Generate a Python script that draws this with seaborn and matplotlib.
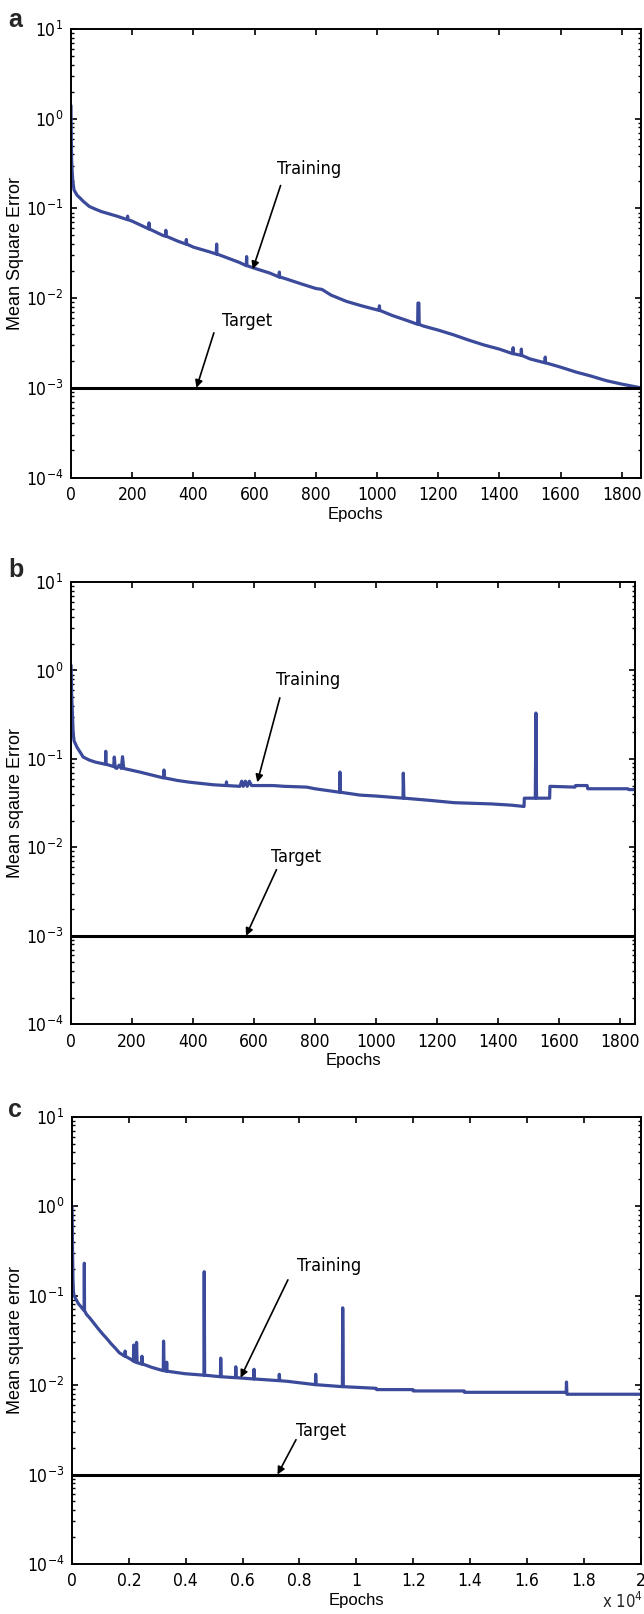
import math
import matplotlib
matplotlib.use("Agg")
import matplotlib.pyplot as plt
import matplotlib.ticker as mticker
from matplotlib import font_manager
import seaborn as sns
import pandas as pd

# ---------------------------------------------------------------- data
# (a) training run that reaches the goal
epochs_a = [0, 1, 2, 4, 6, 10, 20, 30, 40, 60, 80, 100, 150, 184, 185, 186, 200,
            250, 254, 255, 256, 300, 309, 310, 311, 350, 376, 377, 378, 400, 450,
            475, 476, 477, 500, 550, 573, 574, 575, 600, 650, 680, 681, 682, 700,
            750, 800, 820, 850, 900, 950, 1000, 1007, 1008, 1009, 1050, 1100,
            1133, 1134, 1137, 1138, 1150, 1200, 1250, 1300, 1350, 1400, 1444, 1445,
            1446, 1471, 1472, 1473, 1500, 1549, 1550, 1551, 1600, 1650, 1700, 1750,
            1800, 1862]
mse_a = [1.4, 0.6, 0.35, 0.25, 0.2, 0.16, 0.14, 0.13, 0.12, 0.105, 0.098, 0.092,
         0.082, 0.075, 0.082, 0.075, 0.072, 0.06, 0.059, 0.069, 0.059, 0.05, 0.049,
         0.057, 0.049, 0.043, 0.040, 0.045, 0.040, 0.037, 0.033, 0.031, 0.040,
         0.031, 0.029, 0.025, 0.023, 0.029, 0.023, 0.0215, 0.019, 0.0172, 0.0195,
         0.0172, 0.0165, 0.0145, 0.0128, 0.0125, 0.0108, 0.0092, 0.0082, 0.0074,
         0.0073, 0.0082, 0.0073, 0.0064, 0.0056, 0.0051, 0.0088, 0.0088, 0.0051,
         0.0049, 0.0044, 0.0039, 0.0034, 0.0030, 0.0027, 0.0024, 0.0028, 0.0024,
         0.0023, 0.0027, 0.0023, 0.0021, 0.0019, 0.0022, 0.0019, 0.0017, 0.0015,
         0.00135, 0.0012, 0.0011, 0.001]

# (b) training run that stalls around 0.03-0.05
epochs_b = [0, 1, 2, 3, 5, 7, 10, 20, 40, 60, 80, 113, 114, 115, 140, 142, 145,
            150, 158, 165, 169, 173, 226, 303, 305, 307, 350, 390, 467, 509, 510,
            511, 554, 560, 565, 572, 578, 585, 592, 663, 700, 773, 800, 860, 881,
            882, 884, 948, 1003, 1089, 1090, 1092, 1177, 1257, 1378, 1445, 1486,
            1487, 1523, 1525, 1527, 1570, 1571, 1653, 1655, 1693, 1695, 1827, 1830,
            1850]
mse_b = [1.15, 0.9, 0.55, 0.45, 0.3, 0.2, 0.16, 0.135, 0.105, 0.097, 0.092, 0.087,
         0.122, 0.087, 0.082, 0.105, 0.08, 0.078, 0.085, 0.078, 0.106, 0.078, 0.071,
         0.061, 0.075, 0.061, 0.057, 0.0545, 0.051, 0.050, 0.055, 0.050, 0.049,
         0.056, 0.049, 0.056, 0.049, 0.056, 0.050, 0.050, 0.049, 0.048, 0.046,
         0.043, 0.042, 0.071, 0.042, 0.039, 0.038, 0.036, 0.069, 0.036, 0.034,
         0.032, 0.031, 0.030, 0.029, 0.036, 0.036, 0.33, 0.036, 0.036, 0.049,
         0.048, 0.050, 0.050, 0.046, 0.046, 0.045, 0.045]

# (c) long run, 2 x 10^4 epochs
epochs_c = [0, 10, 20, 35, 50, 72, 217, 361, 430, 434, 440, 506, 650, 795, 939,
            1085, 1228, 1374, 1517, 1663, 1806, 1860, 1870, 1880, 2095, 2160, 2170,
            2200, 2260, 2270, 2290, 2450, 2460, 2470, 2529, 2800, 3107, 3210, 3220,
            3240, 3320, 3330, 3340, 3974, 4640, 4650, 4665, 5220, 5230, 5245, 5564,
            5750, 5760, 5775, 6390, 6400, 6415, 7280, 7290, 7305, 7587, 8454, 8560,
            8570, 8585, 9510, 9520, 9540, 10700, 10710, 11990, 12000, 13790, 13800,
            17380, 17390, 17405, 20000]
mse_c = [1.0, 0.6, 0.3, 0.15, 0.11, 0.1, 0.082, 0.072, 0.068, 0.23, 0.068, 0.062,
         0.055, 0.048, 0.042, 0.037, 0.033, 0.029, 0.026, 0.023, 0.0215, 0.021,
         0.024, 0.021, 0.0192, 0.0185, 0.028, 0.0183, 0.018, 0.030, 0.0178, 0.0172,
         0.021, 0.0172, 0.017, 0.0158, 0.0148, 0.0145, 0.031, 0.0145, 0.0143,
         0.018, 0.0143, 0.0134, 0.0129, 0.185, 0.0129, 0.0124, 0.020, 0.0124,
         0.0122, 0.0121, 0.016, 0.0121, 0.0117, 0.015, 0.0117, 0.0112, 0.0132,
         0.0112, 0.011, 0.0102, 0.0101, 0.0132, 0.0101, 0.0096, 0.073, 0.0096,
         0.0092, 0.0089, 0.0089, 0.0086, 0.0086, 0.0083, 0.0083, 0.0108, 0.0079,
         0.0079]

target_mse = 1e-3
x_max = [1862, 1850, 20000]
x_ticks_ab = [0, 200, 400, 600, 800, 1000, 1200, 1400, 1600, 1800]
x_ticks_c = [0, 2000, 4000, 6000, 8000, 10000, 12000, 14000, 16000, 18000, 20000]
x_ticklabels_c = ["0", "0.2", "0.4", "0.6", "0.8", "1", "1.2", "1.4", "1.6", "1.8", "2"]
y_labels = ["Mean Square Error", "Mean sqaure Error", "Mean square error"]
panel_letters = ["a", "b", "c"]

# ---------------------------------------------------------------- fonts
sns.set_theme(style="ticks")
installed = {f.name for f in font_manager.fontManager.ttflist}
condensed_dejavu = any(f.name == "DejaVu Sans" and f.stretch == "condensed"
                       for f in font_manager.fontManager.ttflist)
if "Liberation Sans Narrow" in installed:
    NARROW, NARROW_STRETCH, TICK_SIZE = ["Liberation Sans Narrow", "DejaVu Sans"], "normal", 13.5
elif condensed_dejavu:
    NARROW, NARROW_STRETCH, TICK_SIZE = ["DejaVu Sans"], "condensed", 12.5
else:
    NARROW, NARROW_STRETCH, TICK_SIZE = ["Liberation Sans", "DejaVu Sans"], "normal", 12.5
REGULAR = ["Liberation Sans", "DejaVu Sans"]
plt.rcParams["font.family"] = NARROW
plt.rcParams["font.stretch"] = NARROW_STRETCH
plt.rcParams["mathtext.fontset"] = "custom"
plt.rcParams["mathtext.rm"] = NARROW[0]
plt.rcParams["mathtext.it"] = NARROW[0]
plt.rcParams["axes.linewidth"] = 1.4

LINE_BLUE = "#3b4a9a"
W, H = 644, 1614

fig = plt.figure(figsize=(W / 100, H / 100), dpi=100)

# axes boxes in pixels: left, right, top, bottom
boxes = [(71, 640.7, 29, 477.5), (71, 635, 582, 1024.3), (72, 640.7, 1116.7, 1564)]

# annotation placements (data coordinates)
train_text = [(777, 0.275), (777, 0.78), (9038, 0.216)]
train_arrow = [((685, 0.18), (594, 0.021)), ((685, 0.49), (611, 0.0545)),
               ((7593, 0.15), (5929, 0.0121))]
target_text = [(575, 0.0056), (737, 0.0077), (8750, 0.0031)]
target_arrow = [((467, 0.0041), (410, 1e-3)), ((674, 0.0056), (574, 1e-3)),
                ((7878, 0.00245), (7227, 1e-3))]

series = [(epochs_a, mse_a), (epochs_b, mse_b), (epochs_c, mse_c)]
letter_baselines = [26.7, 576.7, 1116.7]


def decade_label(v, pos):
    return r"$\mathregular{10^{%d}}$" % round(math.log10(v))


for i, ((ep, mse), (l, r, t, b)) in enumerate(zip(series, boxes)):
    ax = fig.add_axes([l / W, 1 - b / H, (r - l) / W, (b - t) / H])
    df = pd.DataFrame({"Epochs": ep, "MSE": mse})
    sns.lineplot(data=df, x="Epochs", y="MSE", ax=ax, color=LINE_BLUE,
                 linewidth=2.3, estimator=None, sort=False, zorder=2)
    ax.axhline(target_mse, color="black", linewidth=2.2, zorder=3)

    ax.set_yscale("log")
    ax.set_ylim(1e-4, 1e1)
    ax.set_xlim(0, x_max[i])
    ax.yaxis.set_major_locator(mticker.LogLocator(base=10, numticks=10))
    ax.yaxis.set_minor_locator(mticker.LogLocator(base=10, subs=range(2, 10), numticks=20))
    ax.yaxis.set_minor_formatter(mticker.NullFormatter())
    ax.yaxis.set_major_formatter(mticker.FuncFormatter(decade_label))

    if i < 2:
        ax.set_xticks(x_ticks_ab)
        ax.set_xticklabels([str(v) for v in x_ticks_ab])
    else:
        ax.set_xticks(x_ticks_c)
        ax.set_xticklabels(x_ticklabels_c)
    ax.xaxis.set_minor_locator(mticker.NullLocator())

    ax.tick_params(axis="both", which="both", direction="in", top=True, right=True,
                   colors="black")
    ax.tick_params(axis="both", which="major", length=4.5, width=1.2, labelsize=TICK_SIZE)
    ax.tick_params(axis="y", which="minor", length=2.5, width=1.0)
    ax.tick_params(axis="x", which="major", pad=6)
    ax.tick_params(axis="y", which="major", pad=5.5)
    for sp in ax.spines.values():
        sp.set_color("black")
        sp.set_linewidth(1.4)

    ax.set_xlabel("Epochs", fontsize=12, family=REGULAR, stretch="normal", color="black")
    ax.set_ylabel(y_labels[i], fontsize=13, family=REGULAR, stretch="normal", color="black")
    ax.xaxis.label.set_va("center")
    ax.yaxis.label.set_va("center")
    ax.xaxis.set_label_coords(0.5, -36.5 / (b - t))
    ax.yaxis.set_label_coords((15.5 - l) / (r - l), 0.5)

    arrow_kw = dict(arrowstyle="-|>", color="black", lw=1.2, mutation_scale=11,
                    shrinkA=0, shrinkB=0)
    ax.text(*train_text[i], "Training", fontsize=13, ha="center", va="center",
            color="black", zorder=5)
    ax.annotate("", xy=train_arrow[i][1], xytext=train_arrow[i][0],
                arrowprops=arrow_kw, zorder=5)
    ax.text(*target_text[i], "Target", fontsize=13, ha="center", va="center",
            color="black", zorder=5)
    ax.annotate("", xy=target_arrow[i][1], xytext=target_arrow[i][0],
                arrowprops=arrow_kw, zorder=5)

    fig.text(8 / W, 1 - letter_baselines[i] / H, panel_letters[i], fontsize=18,
             fontweight="bold", family=REGULAR, stretch="normal", ha="left",
             va="baseline")

fig.text(602 / W, 1 - 1612 / H, r"x 10$^{4}$", fontsize=12, ha="left", va="bottom")

fig.savefig("out.png", dpi=100)
